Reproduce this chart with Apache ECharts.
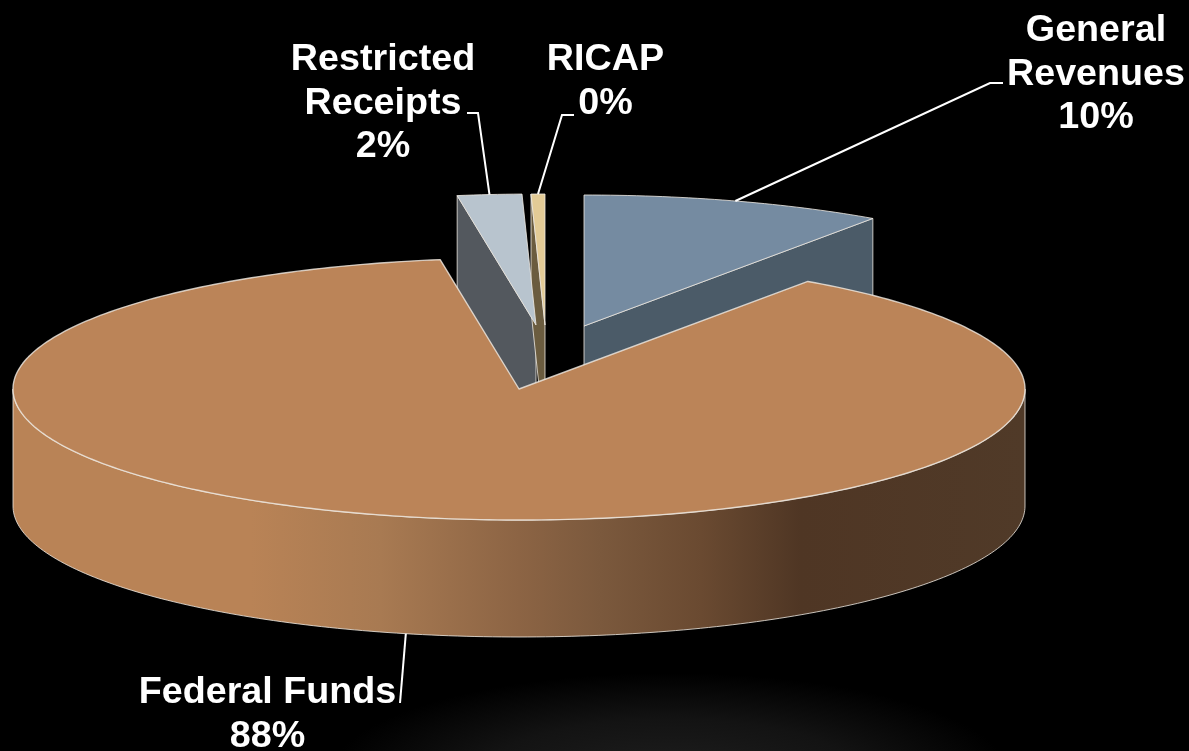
<!DOCTYPE html>
<html>
<head>
<meta charset="utf-8">
<style>
  html, body { margin: 0; padding: 0; background: #000; }
  #main { width: 1189px; height: 751px; }
</style>
<script src="https://cdn.jsdelivr.net/npm/echarts@6/dist/echarts.min.js"></script>
</head>
<body>
<div id="main"></div>
<script>
// slices, clockwise from 12 o'clock
const categories = ['General\nRevenues', 'Federal Funds', 'Restricted\nReceipts', 'RICAP'];
const values = [9.67, 87.84, 2.05, 0.44];

const total = values.reduce((a, b) => a + b, 0);

// tilted pie
const RX = 506, RY = 131, DEPTH = 117;
// centre of each slice after it is pulled out
const centers = [[584, 326], [519, 389], [536, 325], [545, 325]];
const topColors = ['#758ba1', '#bb8458', '#b8c4ce', '#e3cb96'];
const wallColors = ['#4b5b68', '#bb8458', '#53585e', '#6b5c3f'];
const EDGE = 'rgba(240,235,228,0.8)';

// label boxes: text centre x, first line top y, leader elbow points
const labelBox = [
  { x: 1096, y: 9, elbow: [[990, 83], [1003, 83]] },
  { x: 267.5, y: 671, elbow: [[400, 703]] },
  { x: 383, y: 38, elbow: [[478, 113], [467, 113]] },
  { x: 605.5, y: 38, elbow: [[562, 115], [574, 115]] }
];
const LINE_H = 43.5;

let acc = 0;
const angles = values.map((v) => {
  const start = acc / total * 360;
  acc += v;
  return [start, acc / total * 360];
});

function pt(c, deg, dy) {
  const r = deg * Math.PI / 180;
  return [c[0] + RX * Math.sin(r), c[1] - RY * Math.cos(r) + (dy || 0)];
}

function arc(c, from, to, dy) {
  const pts = [];
  const n = Math.max(2, Math.ceil(Math.abs(to - from)));
  for (let i = 0; i <= n; i++) pts.push(pt(c, from + (to - from) * i / n, dy));
  return pts;
}

function poly(points, fill, z2, width) {
  return {
    type: 'polygon',
    z2,
    shape: { points },
    style: { fill, stroke: EDGE, lineWidth: width || 1, lineJoin: 'round' }
  };
}

function renderSlice(params, api) {
  const i = api.value(0);
  const c = centers[i];
  const [a0, a1] = angles[i];
  const isBig = i === 1;
  const z = isBig ? 20 : 10;
  const children = [];

  if (isBig) {
    // outer wall, front half only
    const front = arc(c, 90, 270, 0);
    const wall = front.concat(arc(c, 270, 90, DEPTH));
    children.push(poly(wall, new echarts.graphic.LinearGradient(
      c[0] - RX, 0, c[0] + RX, 0,
      [
        { offset: 0, color: '#b98356' },
        { offset: 0.235, color: '#b98356' },
        { offset: 0.363, color: '#a87a52' },
        { offset: 0.5, color: '#8c6444' },
        { offset: 0.58, color: '#7b593d' },
        { offset: 0.68, color: '#6a4a31' },
        { offset: 0.778, color: '#4f3624' },
        { offset: 1, color: '#503a28' }
      ], true
    ), z));
  } else {
    // cut face on the leading side of the slice
    const radial = i === 0 ? a1 : a0;
    const o = pt(c, radial, 0);
    children.push(poly([c, o, [o[0], o[1] + DEPTH], [c[0], c[1] + DEPTH]], wallColors[i], z));
  }

  children.push(poly([c].concat(arc(c, a0, a1, 0)), topColors[i], z + 1, isBig ? 1.4 : 1));
  return { type: 'group', children };
}

function renderLabel(params, api) {
  const i = api.value(0);
  const [a0, a1] = angles[i];
  const mid = (a0 + a1) / 2;
  const box = labelBox[i];
  const front = mid > 90 && mid < 270;
  const anchor = pt(centers[i], mid, front ? DEPTH : 0);
  return {
    type: 'group',
    children: [
      {
        type: 'polyline',
        shape: { points: [anchor].concat(box.elbow) },
        style: { fill: 'none', stroke: '#fff', lineWidth: 2 }
      },
      {
        type: 'text',
        style: {
          x: box.x,
          y: box.y,
          text: categories[i] + '\n' + Math.round(values[i] / total * 100) + '%',
          align: 'center',
          verticalAlign: 'top',
          fill: '#fff',
          font: 'bold 37.7px "Liberation Sans", Arial, sans-serif',
          lineHeight: LINE_H
        }
      }
    ]
  };
}

const sliceIndex = values.map((v, i) => [i, v]);

const chart = echarts.init(document.getElementById('main'));
chart.setOption({
  animation: false,
  backgroundColor: '#000',
  graphic: [{
    // faint floor glow, squashed circle
    type: 'circle',
    z: 0,
    silent: true,
    x: 670,
    y: 775,
    scaleY: 0.3,
    shape: { cx: 0, cy: 0, r: 340 },
    style: {
      fill: new echarts.graphic.RadialGradient(0.5, 0.5, 0.5, [
        { offset: 0, color: '#1e1e1e' },
        { offset: 0.55, color: '#131313' },
        { offset: 1, color: '#000' }
      ])
    }
  }],
  series: [
    {
      type: 'custom',
      coordinateSystem: 'none',
      z: 2,
      silent: true,
      renderItem: renderSlice,
      data: sliceIndex
    },
    {
      type: 'custom',
      coordinateSystem: 'none',
      z: 3,
      silent: true,
      renderItem: renderLabel,
      data: sliceIndex
    }
  ]
});
</script>
</body>
</html>
